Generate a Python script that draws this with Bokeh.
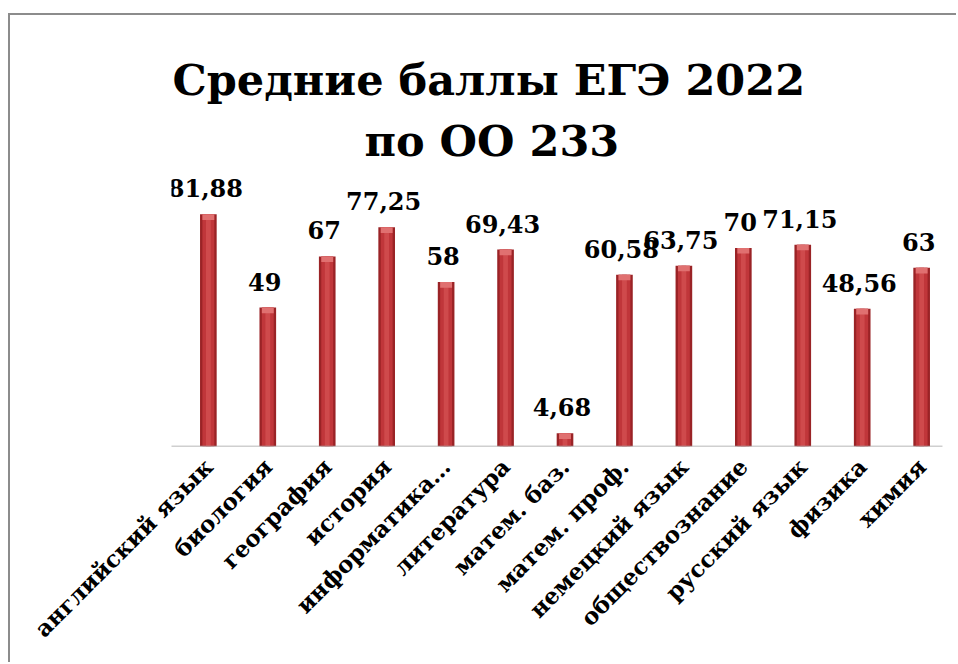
import math
from bokeh.plotting import figure
from bokeh.models import FactorRange, Range1d, ColumnDataSource, Title
from bokeh.core.properties import value
from bokeh.embed import file_html
from bokeh.resources import INLINE

subjects = ["английский язык", "биология", "география", "история", "информатика…",
            "литература", "матем. баз.", "матем. проф.", "немецкий язык",
            "обществознание", "русский язык", "физика", "химия"]
scores = [81.88, 49, 67, 77.25, 58, 69.43, 4.68, 60.58, 63.75, 70, 71.15, 48.56, 63]
score_labels = ["81,88", "49", "67", "77,25", "58", "69,43", "4,68", "60,58",
                "63,75", "70", "71,15", "48,56", "63"]
title_lines = ["Средние баллы ЕГЭ 2022", "по ОО 233"]

FONT = "DejaVu Serif"

p = figure(x_range=FactorRange(*subjects, range_padding=0.12,
                               range_padding_units="absolute"),
           y_range=Range1d(0, 98),
           width=948, height=649,
           output_backend="svg", toolbar_location=None,
           min_border_left=161, min_border_right=0,
           min_border_top=153, min_border_bottom=218)
p.styles = {"border-left": "2px solid #8c8c8c", "border-top": "2px solid #8c8c8c",
            "margin-top": "13px", "margin-left": "8px"}
p.outline_line_color = None
p.xgrid.visible = False
p.ygrid.visible = False
p.yaxis.visible = False

src = ColumnDataSource(dict(x=subjects, top=scores, lab=score_labels,
                            cap=[s - 2.0 for s in scores]))

# cylinder-like bars
p.vbar(x="x", top="top", bottom=0, width=0.28, source=src,
       fill_color="#9a2326", line_color=None)
p.vbar(x="x", top="top", bottom=0, width=0.2, source=src,
       fill_color="#c0363a", line_color=None)
p.vbar(x="x", top="top", bottom=0, width=0.08, source=src,
       fill_color="#cf4a4c", line_color=None)
p.vbar(x="x", top="top", bottom="cap", width=0.2, source=src,
       fill_color="#e07070", line_color=None)

# baseline
p.segment(x0=[(subjects[0], -0.69)], y0=[0], x1=[(subjects[-1], 0.35)], y1=[0],
          line_color="#a0a0a0", line_width=1.5)

p.text(x="x", y="top", text="lab", source=src,
       text_font=value(FONT), text_font_style="bold", text_font_size="24px",
       text_align="center", text_baseline="alphabetic",
       x_offset=-3, y_offset=-26, text_color="black")

ax = p.xaxis[0]
ax.major_label_orientation = math.pi / 4
ax.major_label_text_font = FONT
ax.major_label_text_font_style = "bold"
ax.major_label_text_font_size = "23px"
ax.major_label_text_color = "black"
ax.major_tick_line_color = None
ax.minor_tick_line_color = None
ax.axis_line_color = None
ax.major_label_standoff = 10

# title lines: the first one added sits closest to the plot
for txt, off, so in zip(reversed(title_lines), [193, 1], [6, 12]):
    p.add_layout(Title(text=txt, align="left", offset=off, standoff=so,
                       text_font=FONT, text_font_style="bold",
                       text_font_size="43px", text_color="black"), "above")

open("out.html", "w").write(file_html(p, INLINE))
